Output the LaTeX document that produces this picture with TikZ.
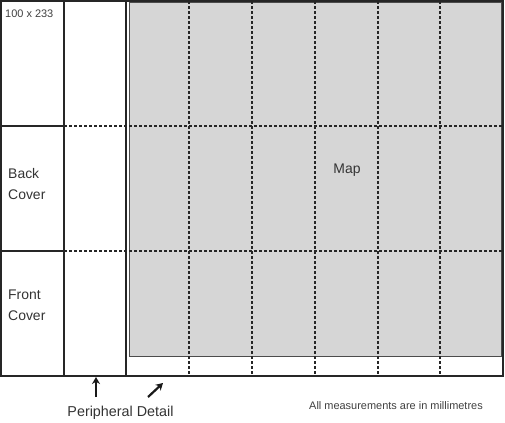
\documentclass[tikz,border=0pt]{standalone}
\usepackage{fontspec}
\setmainfont{Liberation Sans}
\usetikzlibrary{arrows.meta}
\begin{document}
\begin{tikzpicture}[x=1bp,y=-1bp,
  solidline/.style={line width=1.2bp, draw=black!85},
  dashline/.style={line width=1.2bp, draw=black!85, dash pattern=on 3bp off 2bp},
  lbl/.style={inner sep=0pt, text=black!80, font=\fontsize{14}{21}\selectfont},
  smalllbl/.style={inner sep=0pt, text=black!75, font=\fontsize{11}{13}\selectfont},
  ptr/.style={line width=2.2bp, draw=black!90, -{Stealth[length=7bp,width=8bp]}}]
\useasboundingbox (0,0) rectangle (505,422);
% map shading
\fill[black!16] (129,2) rectangle (501,356);
\draw[line width=0.8bp, draw=black!70] (129,2) rectangle (501,356);
% dashed grid
\foreach \x in {189,252,315,378,440} \draw[dashline] (\x,1) -- (\x,376);
\draw[dashline] (64,126) -- (503,126);
\draw[dashline] (64,251) -- (503,251);
% solid lines
\draw[solidline] (1,126) -- (64,126);
\draw[solidline] (1,251) -- (64,251);
\draw[solidline] (64,1) -- (64,376);
\draw[solidline] (126,1) -- (126,376);
\draw[solidline] (1,1) rectangle (503,376);
% labels
\node[smalllbl, anchor=west] (size) at (5,13.5) {100 x 233};
\node[lbl, anchor=west, align=left] (back) at (8,184) {Back\\Cover};
\node[lbl, anchor=west, align=left] (front) at (8,305) {Front\\Cover};
\node[lbl] (map) at (347,170) {Map};
\node[lbl, font=\fontsize{14.4}{17}\selectfont] (peri) at (120.5,413) {Peripheral Detail};
\node[smalllbl] (note) at (396,405.5) {All measurements are in millimetres};
% pointers
\coordinate (t1) at (96,377);
\coordinate (s1) at (96,397);
\coordinate (t2) at (163,383);
\coordinate (s2) at (148,397);
\draw[ptr] (s1) -- (t1);
\draw[ptr] (s2) -- (t2);
\end{tikzpicture}
\end{document}
